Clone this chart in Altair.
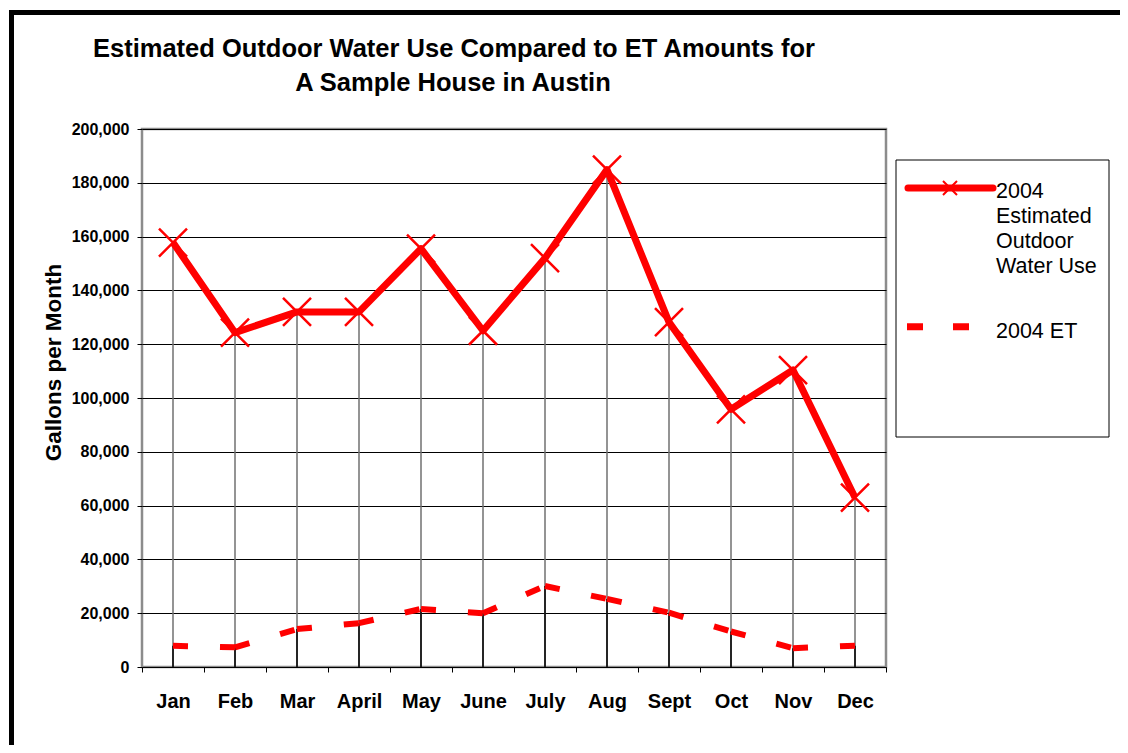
import altair as alt
import pandas as pd

months = ["Jan", "Feb", "Mar", "April", "May", "June", "July", "Aug", "Sept", "Oct", "Nov", "Dec"]
water_use = [157800, 124300, 132000, 132000, 155500, 125000, 152000, 184900, 128200, 95800, 110400, 63000]
et_values = [7900, 7300, 14100, 16300, 21600, 20000, 30100, 25300, 20200, 13200, 7000, 7900]
y_ticks = [0, 20000, 40000, 60000, 80000, 100000, 120000, 140000, 160000, 180000, 200000]

title_lines = ["Estimated Outdoor Water Use Compared to ET Amounts for", "A Sample House in Austin"]
series_names = ["2004\nEstimated\nOutdoor\nWater Use", "2004 ET"]
y_title = "Gallons per Month"

FONT = "Liberation Sans"
RED = "#FF0000"

df = pd.DataFrame({"month": months, "water": water_use, "et": et_values, "zero": [0] * len(months)})

seg_rows = []
for i in range(len(months) - 1):
    seg_rows.append({"month": months[i], "et": et_values[i], "seg": i})
    seg_rows.append({"month": months[i + 1], "et": et_values[i + 1], "seg": i})
seg_df = pd.DataFrame(seg_rows)

X = alt.X(
    "month:N",
    sort=months,
    scale=alt.Scale(type="band", paddingInner=0, paddingOuter=0),
    axis=alt.Axis(
        title=None, labelAngle=0, tickBand="extent", grid=False, domain=False,
        labelFont=FONT, labelFontSize=20, labelFontWeight="bold", labelColor="black",
        labelBaseline="alphabetic", labelPadding=35,
        ticks=True, tickColor="black", tickSize=5, tickWidth=1,
    ),
)

def Y(field):
    return alt.Y(
        f"{field}:Q",
        scale=alt.Scale(domain=[0, 200000], nice=False, zero=True),
        axis=alt.Axis(
            values=y_ticks, format=",.0f", title=y_title,
            titleFont=FONT, titleFontSize=22.5, titleFontWeight="bold", titleColor="black",
            titleX=-89, titleY=233, titleAngle=270, titleAlign="center", titleBaseline="middle",
            labelFont=FONT, labelFontSize=16, labelFontWeight="bold", labelColor="black",
            labelPadding=8, tickColor="black", tickSize=5, tickWidth=1,
            grid=True, gridColor="black", gridWidth=1, gridOpacity=1, domain=False,
        ),
    )

base = alt.Chart(df)

drop_top = base.mark_rule(color="#707070", strokeWidth=1.5).encode(x=X, y=Y("water"), y2="zero:Q")
drop_low = base.mark_rule(color="black", strokeWidth=1.5).encode(x=X, y=Y("et"), y2="zero:Q")

et_line = alt.Chart(seg_df).mark_line(
    color=RED, strokeWidth=6, strokeDash=[15, 32], strokeCap="butt"
).encode(x=X, y=Y("et"), detail="seg:N")

water_line = base.mark_line(color=RED, strokeWidth=7, strokeJoin="round", strokeCap="butt").encode(x=X, y=Y("water"))

XPATH = "M-1,-1L1,1M-1,1L1,-1"
markers = base.mark_point(shape=XPATH, size=784, filled=False, color=RED, strokeWidth=2.5, opacity=1).encode(
    x=X, y=Y("water")
)

one = alt.Chart(pd.DataFrame({"a": [0]}))

title1 = one.mark_text(font=FONT, fontSize=25.5, fontWeight="bold", color="black", align="center", baseline="alphabetic").encode(
    x=alt.value(312), y=alt.value(-72), text=alt.value(title_lines[0]))
title2 = one.mark_text(font=FONT, fontSize=25.5, fontWeight="bold", color="black", align="center", baseline="alphabetic").encode(
    x=alt.value(311), y=alt.value(-38), text=alt.value(title_lines[1]))

frame_v = one.mark_rule(color="black", strokeWidth=5).encode(x=alt.value(-130.5), y=alt.value(-119), y2=alt.value(700))
frame_h = one.mark_rule(color="black", strokeWidth=5).encode(x=alt.value(-133), x2=alt.value(1000), y=alt.value(-116.5))

leg_box = one.mark_rect(fill="white", stroke="black", strokeWidth=1).encode(
    x=alt.value(754), x2=alt.value(967), y=alt.value(31), y2=alt.value(308))
leg_line = one.mark_rule(color=RED, strokeWidth=7, strokeCap="round").encode(
    x=alt.value(766), x2=alt.value(851), y=alt.value(59))
leg_mark = one.mark_point(shape=XPATH, size=196, filled=False, color=RED, strokeWidth=2, opacity=1).encode(
    x=alt.value(808), y=alt.value(59))
leg_text1 = one.mark_text(font=FONT, fontSize=21.5, color="black", align="left", baseline="alphabetic",
                          lineBreak="\n", lineHeight=25).encode(
    x=alt.value(854), y=alt.value(69), text=alt.value(series_names[0]))
leg_dash = one.mark_rule(color=RED, strokeWidth=7, strokeDash=[16, 30], strokeCap="butt").encode(
    x=alt.value(765), x2=alt.value(827), y=alt.value(197.7))
leg_text2 = one.mark_text(font=FONT, fontSize=21.5, color="black", align="left", baseline="alphabetic").encode(
    x=alt.value(854), y=alt.value(208.7), text=alt.value(series_names[1]))

chart = alt.layer(
    drop_top, drop_low, et_line, water_line, markers,
    title1, title2, frame_v, frame_h,
    leg_box, leg_line, leg_mark, leg_text1, leg_dash, leg_text2,
).properties(
    width=744, height=538,
    autosize=alt.AutoSizeParams(type="none"),
    padding={"left": 134, "top": 121, "right": 234, "bottom": 78},
    background="white",
).configure_view(stroke="#8c8c8c", strokeWidth=2.5)

chart.save("out.html", embed_options={"renderer": "svg", "actions": False})
